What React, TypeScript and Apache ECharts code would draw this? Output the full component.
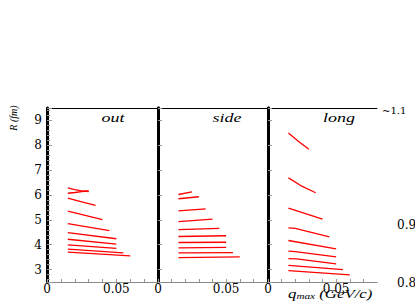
import React, { useEffect, useRef } from "react";
import * as echarts from "echarts";

// ---- data (q_max in GeV/c, R in fm) ----
const panelNames = ["out", "side", "long"];
const xLabelValues = [0, 0.05];
const yLabelValues = [3, 4, 5, 6, 7, 8, 9];
const rightLabels = ["~1.1", "0.9", "0.8"];

const outLines: number[][][] = [
  [[0.015, 6.29], [0.02, 6.22], [0.025, 6.17], [0.03, 6.14]],
  [[0.015, 6.07], [0.02, 6.1], [0.025, 6.14], [0.03, 6.16]],
  [[0.015, 5.87], [0.025, 5.72], [0.035, 5.58]],
  [[0.015, 5.35], [0.04, 5.01]],
  [[0.015, 4.85], [0.045, 4.57]],
  [[0.015, 4.49], [0.05, 4.24]],
  [[0.015, 4.22], [0.05, 4.02]],
  [[0.015, 3.99], [0.05, 3.85]],
  [[0.015, 3.82], [0.055, 3.67]],
  [[0.015, 3.7], [0.06, 3.55]],
];

const sideLines: number[][][] = [
  [[0.015, 6.02], [0.025, 6.13]],
  [[0.015, 5.85], [0.03, 5.93]],
  [[0.015, 5.36], [0.035, 5.44]],
  [[0.015, 4.93], [0.04, 5.03]],
  [[0.015, 4.61], [0.045, 4.66]],
  [[0.015, 4.33], [0.05, 4.36]],
  [[0.015, 4.09], [0.05, 4.1]],
  [[0.015, 3.87], [0.05, 3.89]],
  [[0.015, 3.67], [0.055, 3.68]],
  [[0.015, 3.48], [0.06, 3.51]],
];

const longLines: number[][][] = [
  [[0.015, 8.49], [0.022, 8.17], [0.03, 7.84]],
  [[0.015, 6.69], [0.024, 6.38], [0.035, 6.09]],
  [[0.015, 5.47], [0.04, 5.03]],
  [[0.015, 4.68], [0.02, 4.66], [0.045, 4.32]],
  [[0.015, 4.17], [0.05, 3.83]],
  [[0.015, 3.74], [0.02, 3.72], [0.05, 3.51]],
  [[0.015, 3.44], [0.021, 3.43], [0.05, 3.23]],
  [[0.015, 3.17], [0.055, 3.0]],
  [[0.015, 2.96], [0.06, 2.79]],
];

const panelLines = [outLines, sideLines, longLines];

const TICK_FONT = "DejaVu Serif";
const SERIF = "Liberation Serif";

export default function App() {
  const ref = useRef<HTMLDivElement>(null);

  useEffect(() => {
    if (!ref.current) return;
    const chart = echarts.init(ref.current, undefined, { renderer: "svg" });

    const lefts = [47, 158, 268];
    const widths = [111, 109, 109];
    const top = 108;
    const height = 174;

    const grids = lefts.map((l, i) => ({ left: l, top, width: widths[i], height }));

    const xAxes: any[] = [];
    const yAxes: any[] = [];
    for (let i = 0; i < 3; i++) {
      xAxes.push({
        type: "value",
        gridIndex: i,
        min: 0,
        max: 0.08,
        interval: 0.01,
        position: "bottom",
        axisLine: { show: true, lineStyle: { color: "#8a8a8a", width: 1.2 } },
        axisTick: {
          show: true,
          inside: true,
          length: 3,
          lineStyle: { color: "#9a9a9a", width: 1 },
        },
        splitLine: { show: false },
        axisLabel: {
          margin: 1,
          fontFamily: TICK_FONT,
          fontSize: 12,
          color: "#000",
          showMaxLabel: false,
          formatter: (v: number) => {
            const hit = xLabelValues.find((t) => Math.abs(t - v) < 1e-9);
            return hit === undefined ? "" : hit === 0 ? "0" : String(hit);
          },
        },
      });
    }
    for (let i = 0; i < 3; i++) {
      xAxes.push({
        type: "value",
        gridIndex: i,
        min: 0,
        max: 0.08,
        position: "top",
        axisLine: { show: true, lineStyle: { color: "#000", width: 1 } },
        axisTick: { show: false },
        axisLabel: { show: false },
        splitLine: { show: false },
      });
    }
    for (let i = 0; i < 3; i++) {
      yAxes.push({
        type: "value",
        gridIndex: i,
        min: 2.5,
        max: 9.5,
        splitNumber: 7,
        position: "left",
        axisLine: {
          show: true,
          lineStyle: i === 0 ? { color: "#8a8a8a", width: 1.5 } : { color: "#000", width: 3 },
        },
        axisTick: {
          show: true,
          inside: true,
          length: i === 0 ? 5 : 4,
          lineStyle: { color: "#9a9a9a", width: 1 },
        },
        minorTick: {
          show: i === 0,
          splitNumber: 5,
          length: 3,
          lineStyle: { color: "#9a9a9a", width: 1 },
        },
        splitLine: { show: false },
        axisLabel: {
          show: i === 0,
          margin: 5,
          fontFamily: TICK_FONT,
          fontSize: 12,
          color: "#000",
          showMinLabel: false,
          showMaxLabel: false,
          formatter: (v: number) =>
            yLabelValues.some((t) => Math.abs(t - v) < 1e-9) ? String(v) : "",
        },
      });
    }
    for (let i = 0; i < 3; i++) {
      yAxes.push({
        type: "value",
        gridIndex: i,
        min: 2.5,
        max: 9.5,
        position: "right",
        axisLine: { show: true, lineStyle: { color: "#000", width: 3 } },
        axisTick: { show: false },
        axisLabel: { show: false },
        splitLine: { show: false },
      });
    }

    const series: any[] = [];
    panelLines.forEach((lines, gi) => {
      lines.forEach((pts) => {
        series.push({
          type: "line",
          xAxisIndex: gi,
          yAxisIndex: gi,
          data: pts,
          symbol: "none",
          showSymbol: false,
          silent: true,
          lineStyle: { color: "#ff0000", width: 1.3 },
        });
      });
    });

    const titleCenters = [113, 227, 339];
    const graphics: any[] = panelNames.map((name, i) => ({
      type: "text",
      x: titleCenters[i],
      y: 118,
      scaleX: 1.5,
      style: {
        text: name,
        fontFamily: SERIF,
        fontStyle: "italic",
        fontWeight: "normal",
        fontSize: 12,
        fill: "#000",
        align: "center",
        verticalAlign: "middle",
      },
      z: 10,
    }));

    graphics.push({
      type: "text",
      x: 13,
      y: 118,
      rotation: Math.PI / 2,
      style: {
        text: "R (fm)",
        fontFamily: SERIF,
        fontStyle: "italic",
        fontWeight: "normal",
        fontSize: 10,
        fill: "#000",
        align: "center",
        verticalAlign: "middle",
      },
    });

    graphics.push({
      type: "text",
      x: 288,
      y: 294,
      scaleX: 1.4,
      style: {
        text: "{q|q}{s|max}{t| (GeV/c)}",
        align: "left",
        verticalAlign: "middle",
        rich: {
          q: { fontFamily: SERIF, fontStyle: "italic", fontWeight: "normal", fontSize: 12, fill: "#000", verticalAlign: "top" },
          s: { fontFamily: SERIF, fontStyle: "italic", fontWeight: "normal", fontSize: 8, fill: "#000", verticalAlign: "bottom" },
          t: { fontFamily: SERIF, fontStyle: "italic", fontWeight: "normal", fontSize: 12, fill: "#000", verticalAlign: "top" },
        },
      },
    });

    const rightPos = [
      { x: 382, y: 110, size: 10 },
      { x: 397, y: 225, size: 12 },
      { x: 397, y: 283, size: 12 },
    ];
    rightLabels.forEach((t, i) => {
      graphics.push({
        type: "text",
        x: rightPos[i].x,
        y: rightPos[i].y,
        style: {
          text: t,
          fontFamily: TICK_FONT,
          fontSize: rightPos[i].size,
          fill: "#000",
          align: "left",
          verticalAlign: "middle",
        },
      });
    });

    chart.setOption({
      animation: false,
      backgroundColor: "#fff",
      grid: grids,
      xAxis: xAxes,
      yAxis: yAxes,
      series,
      graphic: graphics,
    });

    return () => chart.dispose();
  }, []);

  return (
    <div
      ref={ref}
      style={{ position: "absolute", left: 0, top: 0, width: 415, height: 304, background: "#fff" }}
    />
  );
}
